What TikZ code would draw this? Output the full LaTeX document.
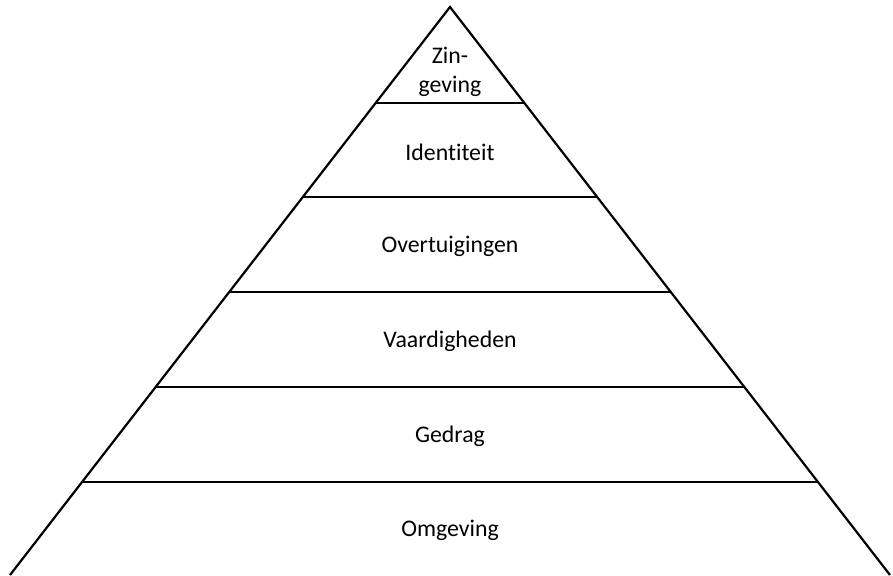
\documentclass[tikz,border=0pt]{standalone}
\usepackage{fontspec}
\setmainfont[Ligatures=NoCommon]{Carlito}
\usetikzlibrary{calc}

\begin{document}
\begin{tikzpicture}[x=0.5pt,y=-0.5pt,line width=1.1pt]
        \useasboundingbox (0,0) rectangle (893,575);
        \coordinate (top) at (450,7);
        \coordinate (links) at (10,575);
        \coordinate (rechts) at (890,575);
        \draw (links) -- (top) -- (rechts);
        \foreach \y in {103,197,292,387,482} {
            \draw ($(top)!{(\y-7)/568}!(links)$) -- ($(top)!{(\y-7)/568}!(rechts)$);
        }
        \node[align=center, font=\fontsize{11.9}{14.5}\selectfont] at (450,72) (zingeving) {Zin-\\geving};
        \node[font=\fontsize{11.9}{14.5}\selectfont] at (450,152) (identiteit) {Identiteit};
        \node[font=\fontsize{11.9}{14.5}\selectfont] at (450,246) (overtuigingen) {Overtuigingen};
        \node[font=\fontsize{11.9}{14.5}\selectfont] at (450,341) (vaardigheden) {Vaardigheden};
        \node[font=\fontsize{11.9}{14.5}\selectfont] at (450,436) (gedrag) {Gedrag};
        \node[font=\fontsize{11.9}{14.5}\selectfont] at (450,530) (omgeving) {Omgeving};
    \end{tikzpicture}
\end{document}
